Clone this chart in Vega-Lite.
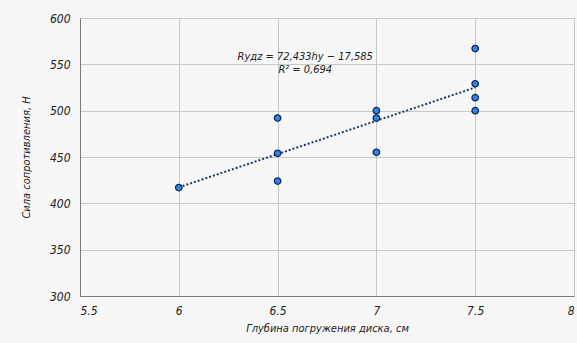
{
  "$schema": "https://vega.github.io/schema/vega-lite/v6.json",
  "autosize": "none",
  "width": 494,
  "height": 278,
  "padding": {"left": 80, "top": 18, "right": 3, "bottom": 47},
  "background": "#f7f7f7",
  "config": {
    "view": {"stroke": "#8c8c8c", "strokeWidth": 1, "fill": "#f7f7f7"},
    "font": "DejaVu Sans Condensed",
    "axis": {
      "labelFont": "DejaVu Sans Condensed",
      "titleFont": "DejaVu Sans Condensed",
      "labelFontStyle": "italic",
      "titleFontStyle": "italic",
      "titleFontWeight": "normal",
      "labelFontSize": 12,
      "titleFontSize": 11,
      "labelColor": "#222",
      "titleColor": "#222",
      "gridColor": "#c8c8c8",
      "gridWidth": 1,
      "domainColor": "#7a7a7a",
      "ticks": false
    }
  },
  "data": {
    "values": [
      {"depth": 6, "force": 417},
      {"depth": 6.5, "force": 492},
      {"depth": 6.5, "force": 454},
      {"depth": 6.5, "force": 424},
      {"depth": 7, "force": 500},
      {"depth": 7, "force": 492},
      {"depth": 7, "force": 455},
      {"depth": 7.5, "force": 567},
      {"depth": 7.5, "force": 529},
      {"depth": 7.5, "force": 514},
      {"depth": 7.5, "force": 500}
    ]
  },
  "layer": [
    {
      "transform": [{"regression": "force", "on": "depth"}],
      "mark": {"type": "line", "color": "#1f3864", "strokeWidth": 2, "strokeDash": [2, 2]},
      "encoding": {
        "x": {"field": "depth", "type": "quantitative"},
        "y": {"field": "force", "type": "quantitative"}
      }
    },
    {
      "mark": {"type": "point", "filled": true, "fill": "#2f86e0", "stroke": "#0d2a5c", "strokeWidth": 1.3, "size": 42, "opacity": 1},
      "encoding": {
        "x": {
          "field": "depth", "type": "quantitative",
          "scale": {"domain": [5.5, 8], "nice": false, "zero": false},
          "axis": {"values": [5.5, 6, 6.5, 7, 7.5, 8], "labelPadding": 9, "title": "Глубина погружения диска, см", "titlePadding": 6, "format": "~g"}
        },
        "y": {
          "field": "force", "type": "quantitative",
          "scale": {"domain": [300, 600], "nice": false, "zero": false},
          "axis": {"values": [300, 350, 400, 450, 500, 550, 600], "labelPadding": 10, "title": "Сила сопротивления, Н", "titlePadding": 18}
        }
      }
    },
    {
      "data": {"values": [{"note": "Rудz = 72,433hу − 17,585\nR² = 0,694"}]},
      "mark": {"type": "text", "font": "DejaVu Sans Condensed", "fontStyle": "italic", "fontWeight": "normal", "fontSize": 11, "fill": "#222", "lineBreak": "\n", "lineHeight": 13, "align": "center", "baseline": "middle"},
      "encoding": {
        "x": {"datum": 6.64},
        "y": {"datum": 558},
        "text": {"field": "note"}
      }
    }
  ]
}
